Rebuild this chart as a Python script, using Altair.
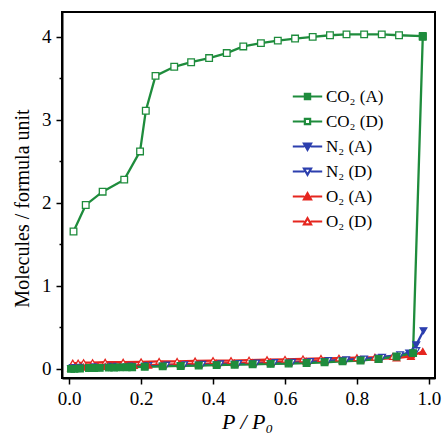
import altair as alt
import pandas as pd

# ---------------- data ----------------
series_names = ["CO₂ (A)", "CO₂ (D)", "N₂ (A)", "N₂ (D)", "O₂ (A)", "O₂ (D)"]

co2_a_x = [0.005, 0.015, 0.03, 0.055, 0.07, 0.085, 0.11, 0.125, 0.14, 0.16, 0.175, 0.21,
           0.26, 0.31, 0.36, 0.41, 0.46, 0.51, 0.56, 0.61, 0.66, 0.71, 0.76, 0.81, 0.86,
           0.91, 0.956, 0.983]
co2_a_y = [0.0, 0.0, 0.005, 0.01, 0.01, 0.012, 0.015, 0.015, 0.018, 0.02, 0.02, 0.025,
           0.03, 0.035, 0.04, 0.045, 0.05, 0.055, 0.06, 0.065, 0.07, 0.08, 0.09, 0.1, 0.12,
           0.15, 0.19, 4.0]

co2_d_x = [0.983, 0.917, 0.869, 0.820, 0.771, 0.725, 0.677, 0.628, 0.580, 0.533, 0.484,
           0.438, 0.389, 0.339, 0.292, 0.240, 0.213, 0.197, 0.153, 0.093, 0.046, 0.012]
co2_d_y = [4.01, 4.02, 4.03, 4.03, 4.03, 4.02, 4.0, 3.98, 3.955, 3.925, 3.885, 3.805,
           3.745, 3.695, 3.64, 3.53, 3.11, 2.62, 2.28, 2.135, 1.975, 1.655]

n2_a_x = [0.005, 0.015, 0.03, 0.055, 0.07, 0.085, 0.11, 0.125, 0.14, 0.16, 0.175, 0.21,
          0.26, 0.31, 0.36, 0.41, 0.46, 0.51, 0.56, 0.61, 0.66, 0.71, 0.76, 0.81, 0.86,
          0.91, 0.945, 0.965, 0.985]
n2_a_y = [0.0, 0.0, 0.005, 0.01, 0.012, 0.015, 0.018, 0.02, 0.02, 0.022, 0.025, 0.03,
          0.035, 0.04, 0.045, 0.05, 0.055, 0.06, 0.065, 0.07, 0.08, 0.09, 0.1, 0.11, 0.13,
          0.15, 0.19, 0.29, 0.46]

n2_d_x = [0.965, 0.92, 0.87, 0.82, 0.77, 0.72, 0.67, 0.62, 0.57, 0.52, 0.47, 0.42, 0.37,
          0.32, 0.27, 0.22, 0.17, 0.12, 0.07, 0.03, 0.01]
n2_d_y = [0.22, 0.17, 0.14, 0.12, 0.11, 0.1, 0.09, 0.08, 0.075, 0.07, 0.065, 0.06, 0.055,
          0.05, 0.045, 0.04, 0.035, 0.03, 0.025, 0.02, 0.015]

o2_a_x = [0.005, 0.02, 0.04, 0.06, 0.08, 0.1, 0.12, 0.14, 0.16, 0.18, 0.22, 0.26, 0.31,
          0.36, 0.41, 0.46, 0.51, 0.56, 0.61, 0.66, 0.71, 0.76, 0.81, 0.86, 0.91, 0.95, 0.983]
o2_a_y = [0.01, 0.015, 0.02, 0.025, 0.03, 0.03, 0.035, 0.035, 0.04, 0.04, 0.045, 0.05,
          0.055, 0.06, 0.065, 0.07, 0.075, 0.08, 0.085, 0.09, 0.095, 0.1, 0.11, 0.12, 0.13,
          0.15, 0.21]

o2_d_x = [0.95, 0.9, 0.85, 0.8, 0.75, 0.7, 0.65, 0.6, 0.55, 0.5, 0.45, 0.4, 0.35, 0.3,
          0.25, 0.2, 0.15, 0.1, 0.065, 0.04, 0.025, 0.01]
o2_d_y = [0.17, 0.15, 0.14, 0.135, 0.13, 0.125, 0.12, 0.115, 0.11, 0.105, 0.1, 0.1, 0.095,
          0.09, 0.09, 0.085, 0.08, 0.08, 0.075, 0.075, 0.07, 0.07]

x_ticks = [0.0, 0.1, 0.2, 0.3, 0.4, 0.5, 0.6, 0.7, 0.8, 0.9, 1.0]
y_ticks = [0.0, 0.5, 1.0, 1.5, 2.0, 2.5, 3.0, 3.5, 4.0]

# ---------------- styling ----------------
GREEN = "#1e8c3c"
BLUE = "#2c3fae"
RED = "#e5261f"
stroke_range = [GREEN, GREEN, BLUE, BLUE, RED, RED]
fill_range = [GREEN, "white", BLUE, "white", RED, "white"]
shape_range = ["square", "square", "triangle-down", "triangle-down", "triangle-up", "triangle-up"]
width_range = [2.3, 2.3, 1.6, 1.6, 1.6, 1.6]

sq_leg = "M-4.2,0H-0.8M0.8,0H4.2M-0.75,-0.75H0.75V0.75H-0.75Z"
td_leg = "M-4.2,0H-0.9M0.9,0H4.2M-1.0,-0.8H1.0L0,0.95Z"
tu_leg = "M-4.2,0H-0.9M0.9,0H4.2M-1.0,0.8H1.0L0,-0.95Z"
leg_shapes = [sq_leg, sq_leg, td_leg, td_leg, tu_leg, tu_leg]

# draw order (first drawn at the bottom)
draw_order = [("O₂ (D)", o2_d_x, o2_d_y), ("N₂ (D)", n2_d_x, n2_d_y),
              ("O₂ (A)", o2_a_x, o2_a_y), ("N₂ (A)", n2_a_x, n2_a_y),
              ("CO₂ (D)", co2_d_x, co2_d_y), ("CO₂ (A)", co2_a_x, co2_a_y)]
rows = []
for name, xs, ys in draw_order:
    for i, (xv, yv) in enumerate(zip(xs, ys)):
        rows.append({"series": name, "x": xv, "y": yv, "idx": i, "leg": name})
df = pd.DataFrame(rows)

FONT = "Liberation Serif"

xscale = alt.Scale(domain=[-0.02, 1.017], nice=False, zero=False)
yscale = alt.Scale(domain=[-0.11, 4.3], nice=False, zero=False)

x_axis = alt.Axis(
    values=x_ticks,
    labelExpr="round(datum.value*10) % 2 === 0 ? format(datum.value, '.1f') : ''",
    tickSize={"condition": {"test": "round(datum.value*10) % 2 === 0", "value": 6}, "value": 3},
    title="P / P₀", titleFontStyle="italic", titleFontSize=22, titleFont=FONT,
    titleFontWeight="normal", titleX=185, titleY=50, titleBaseline="alphabetic",
    labelFlush=False, labelOverlap=False, labelPadding=5, grid=False,
)
y_axis = alt.Axis(
    values=y_ticks,
    labelExpr="datum.value % 1 === 0 ? format(datum.value, 'd') : ''",
    tickSize={"condition": {"test": "datum.value % 1 === 0", "value": 6}, "value": 3},
    title="Molecules / formula unit", titleFontSize=20, titleFont=FONT,
    titleFontWeight="normal", titleX=-34, titleY=196, titleBaseline="alphabetic",
    titleAngle=270, labelOverlap=False, labelPadding=5, grid=False,
)

base = alt.Chart(df)

lines = base.mark_line().encode(
    x=alt.X("x:Q", scale=xscale, axis=x_axis),
    y=alt.Y("y:Q", scale=yscale, axis=y_axis),
    stroke=alt.Stroke("series:N", scale=alt.Scale(domain=series_names, range=stroke_range), legend=None),
    strokeWidth=alt.StrokeWidth("series:N", scale=alt.Scale(domain=series_names, range=width_range), legend=None),
    detail="series:N",
    order=alt.Order("idx:Q"),
)

points = base.mark_point(filled=False, size=44, strokeWidth=1.3, opacity=1).encode(
    x=alt.X("x:Q", scale=xscale),
    y=alt.Y("y:Q", scale=yscale),
    stroke=alt.Stroke("series:N", scale=alt.Scale(domain=series_names, range=stroke_range), legend=None),
    fill=alt.Fill("series:N", scale=alt.Scale(domain=series_names, range=fill_range), legend=None),
    shape=alt.Shape("series:N", scale=alt.Scale(domain=series_names, range=shape_range), legend=None),
)

leg_props = dict(
    title=None, orient="none", legendX=237, legendY=76, padding=0,
    symbolSize=49, symbolStrokeWidth=2.2, labelOffset=10, rowPadding=7,
    labelFont=FONT, labelFontSize=17, labelColor="black", symbolOpacity=1,
)

legend_layer = base.transform_filter("false").mark_point(filled=False, size=49, strokeWidth=2.2, opacity=1).encode(
    x=alt.X("x:Q", scale=xscale),
    y=alt.Y("y:Q", scale=yscale),
    stroke=alt.Stroke("leg:N", scale=alt.Scale(domain=series_names, range=stroke_range), legend=alt.Legend(**leg_props)),
    fill=alt.Fill("leg:N", scale=alt.Scale(domain=series_names, range=fill_range), legend=alt.Legend(**leg_props)),
    shape=alt.Shape("leg:N", scale=alt.Scale(domain=series_names, range=leg_shapes), legend=alt.Legend(**leg_props)),
)

chart = (
    alt.layer(lines, points, legend_layer)
    .resolve_scale(stroke="independent", fill="independent", shape="independent")
    .properties(
        width=373, height=366,
        autosize=alt.AutoSizeParams(type="none"),
        padding={"left": 62, "top": 12, "right": 8, "bottom": 55},
        background="white",
    )
    .configure_view(stroke="black", strokeWidth=2)
    .configure_axis(
        labelFont=FONT, labelFontSize=19, labelColor="black",
        tickColor="black", tickWidth=1.5, domainColor="black", domainWidth=2,
        titleColor="black",
    )
)

chart.save("out.html", embed_options={"renderer": "svg", "actions": False})
